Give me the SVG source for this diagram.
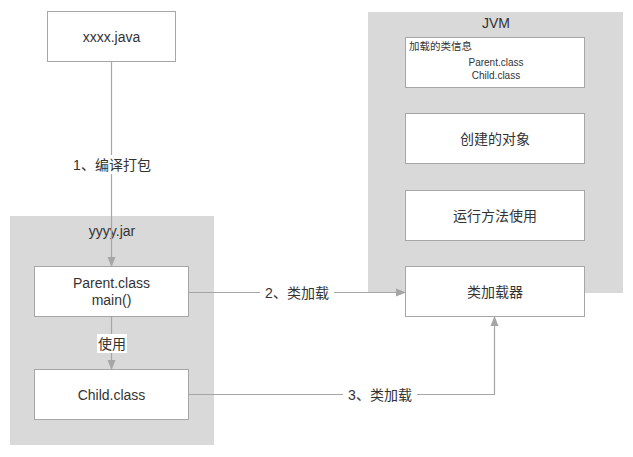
<svg xmlns="http://www.w3.org/2000/svg" width="633" height="457" viewBox="0 0 633 457">
<style>
.c{fill:#d9d9d9;stroke:none}
.b{fill:#fff;stroke:#a6a6a6;stroke-width:1}
.t{font-family:"Liberation Sans","Noto Sans CJK SC",sans-serif;font-size:14px;fill:#333;text-anchor:middle}
.s{font-size:10px}
.e{fill:none;stroke:#a6a6a6;stroke-width:1.2}
</style>
<defs>
<marker id="ah" markerWidth="10" markerHeight="10" refX="9" refY="5" orient="auto" markerUnits="userSpaceOnUse">
<path d="M0,1 L10,5 L0,9 Z" fill="#a6a6a6"/>
</marker>
</defs>
<rect width="633" height="457" fill="#fff"/>
<g id="jar">
<rect class="c" x="10" y="216" width="204" height="229"/>
<text class="t" x="112" y="236">yyyy.jar</text>
</g>
<g id="jvm">
<rect class="c" x="368" y="12" width="255" height="281"/>
<text class="t" x="496" y="28">JVM</text>
</g>
<g id="java">
<rect class="b" x="47.5" y="11.5" width="128" height="50"/>
<text class="t" x="111.5" y="42">xxxx.java</text>
</g>
<g id="parent">
<rect class="b" x="34.5" y="266.5" width="154" height="50"/>
<text class="t" x="111.5" y="288">Parent.class</text>
<text class="t" x="111.5" y="305">main()</text>
</g>
<g id="child">
<rect class="b" x="34.5" y="369.5" width="154" height="50"/>
<text class="t" x="111.5" y="400">Child.class</text>
</g>
<g id="info">
<rect class="b" x="405.5" y="37.5" width="179" height="50"/>
<text class="t" x="409" y="50" style="text-anchor:start;font-size:10.5px">加载的类信息</text>
<text class="t s" x="496" y="66">Parent.class</text>
<text class="t s" x="496" y="79">Child.class</text>
</g>
<g id="objects">
<rect class="b" x="405.5" y="113.5" width="179" height="50"/>
<text class="t" x="495" y="144">创建的对象</text>
</g>
<g id="methods">
<rect class="b" x="405.5" y="190.5" width="179" height="50"/>
<text class="t" x="495" y="221">运行方法使用</text>
</g>
<g id="loader">
<rect class="b" x="405.5" y="266.5" width="179" height="50"/>
<text class="t" x="495" y="297">类加载器</text>
</g>
<g id="edges">
<path class="e" d="M111.5,62 L111.5,266" marker-end="url(#ah)"/>
<path class="e" d="M111.5,317 L111.5,369" marker-end="url(#ah)"/>
<path class="e" d="M189,292.5 L405,292.5" marker-end="url(#ah)"/>
<path class="e" d="M189,394.5 L494.5,394.5 L494.5,317" marker-end="url(#ah)"/>
<rect x="70" y="155" width="84" height="19" fill="#fff"/>
<text class="t" x="112" y="170">1、编译打包</text>
<rect x="97" y="334" width="30" height="19" fill="#fff"/>
<text class="t" x="112" y="349">使用</text>
<rect x="260" y="284" width="74" height="17" fill="#fff"/>
<text class="t" x="297" y="298">2、类加载</text>
<rect x="343" y="386" width="74" height="17" fill="#fff"/>
<text class="t" x="380" y="400">3、类加载</text>
</g>
</svg>
